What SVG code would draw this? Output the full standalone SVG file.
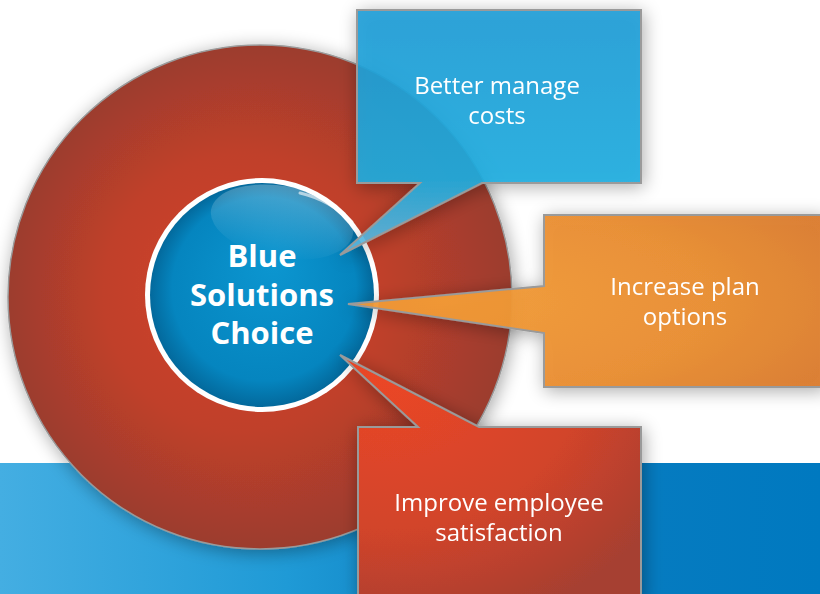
<svg xmlns="http://www.w3.org/2000/svg" width="820" height="594" viewBox="0 0 820 594">
  <defs>
    <linearGradient id="band" x1="0" y1="0" x2="1" y2="0">
      <stop offset="0" stop-color="#44aee2"/>
      <stop offset="0.35" stop-color="#1f9ad6"/>
      <stop offset="0.6" stop-color="#0a7dc0"/>
      <stop offset="1" stop-color="#0079c0"/>
    </linearGradient>
    <radialGradient id="ring" cx="0.5" cy="0.5" r="0.5" fx="0.42" fy="0.48">
      <stop offset="0" stop-color="#d2442a"/>
      <stop offset="0.55" stop-color="#c0402b"/>
      <stop offset="1" stop-color="#9c3c2e"/>
    </radialGradient>
    <radialGradient id="hubFill" cx="0.5" cy="0.5" r="0.5" fx="0.55" fy="0.35">
      <stop offset="0" stop-color="#0c96d0"/>
      <stop offset="0.82" stop-color="#0585bf"/>
      <stop offset="1" stop-color="#03699c"/>
    </radialGradient>
    <linearGradient id="gloss" x1="0" y1="0" x2="0" y2="1">
      <stop offset="0" stop-color="#ffffff" stop-opacity="0.28"/>
      <stop offset="1" stop-color="#ffffff" stop-opacity="0"/>
    </linearGradient>
    <linearGradient id="blueBox" x1="0" y1="0" x2="0" y2="1">
      <stop offset="0" stop-color="#1d9dd7"/>
      <stop offset="0.68" stop-color="#1cade0"/>
      <stop offset="1" stop-color="#64b9e0"/>
    </linearGradient>
    <radialGradient id="orangeBox" cx="0.2" cy="0.5" r="0.9">
      <stop offset="0" stop-color="#f39c36"/>
      <stop offset="0.6" stop-color="#ea8e31"/>
      <stop offset="1" stop-color="#db7c2e"/>
    </radialGradient>
    <radialGradient id="redBox" cx="0.15" cy="0.05" r="1.1">
      <stop offset="0" stop-color="#ec4626"/>
      <stop offset="0.6" stop-color="#d2442b"/>
      <stop offset="1" stop-color="#a63f30"/>
    </radialGradient>
    <filter id="shadow" x="-20%" y="-20%" width="140%" height="140%">
      <feGaussianBlur in="SourceAlpha" stdDeviation="9"/>
      <feOffset dx="2" dy="3" result="b"/>
      <feComponentTransfer><feFuncA type="linear" slope="0.35"/></feComponentTransfer>
      <feMerge><feMergeNode/><feMergeNode in="SourceGraphic"/></feMerge>
    </filter>
    <style>
      .callout { stroke: #9a9a9a; stroke-width: 2; stroke-linejoin: miter; }
      .label { font-family: "Open Sans", "Noto Sans", "Liberation Sans", sans-serif; font-size: 24px; fill: #ffffff; text-anchor: middle; }
      .hubText { font-family: "Open Sans", "Noto Sans", "Liberation Sans", sans-serif; font-size: 31px; font-weight: bold; fill: #ffffff; text-anchor: middle; }
    </style>
  </defs>

  <rect x="0" y="0" width="820" height="594" fill="#ffffff"/>
  <rect x="0" y="463" width="820" height="131" fill="url(#band)"/>

  <g id="ring-node" filter="url(#shadow)">
    <circle cx="260" cy="297" r="252" fill="url(#ring)" stroke="#9a9a9a" stroke-width="1.5"/>
  </g>

  <g id="hub">
    <circle cx="262" cy="295" r="117" fill="#ffffff"/>
    <circle cx="262" cy="295" r="112" fill="url(#hubFill)"/>
    <ellipse cx="282" cy="222" rx="72" ry="36" fill="url(#gloss)" transform="rotate(10 282 222)"/>
    <path d="M300,193 A108,108 0 0 1 352,222" fill="none" stroke="#ffffff" stroke-opacity="0.6" stroke-width="3" stroke-linecap="round"/>
    <text class="hubText"><tspan x="262" y="267">Blue</tspan><tspan x="262" y="306">Solutions</tspan><tspan x="262" y="344">Choice</tspan></text>
  </g>

  <g id="connectors"></g>

  <g id="costs" filter="url(#shadow)">
    <path class="callout" d="M357,10 H641 V183 H482 L340,255 L420,183 H357 Z" fill="url(#blueBox)" fill-opacity="0.9"/>
    <text class="label"><tspan x="497" y="94">Better manage</tspan><tspan x="497" y="124">costs</tspan></text>
  </g>

  <g id="options" filter="url(#shadow)">
    <path class="callout" d="M544,215 H824 V387 H544 V333 L348,304 L544,286 Z" fill="url(#orangeBox)" fill-opacity="0.95"/>
    <text class="label"><tspan x="685" y="295">Increase plan</tspan><tspan x="685" y="325">options</tspan></text>
  </g>

  <g id="satisfaction" filter="url(#shadow)">
    <path class="callout" d="M358,427 H418 L340,355 L479,427 H641 V600 H358 Z" fill="url(#redBox)"/>
    <text class="label"><tspan x="499" y="511">Improve employee</tspan><tspan x="499" y="541">satisfaction</tspan></text>
  </g>
</svg>
